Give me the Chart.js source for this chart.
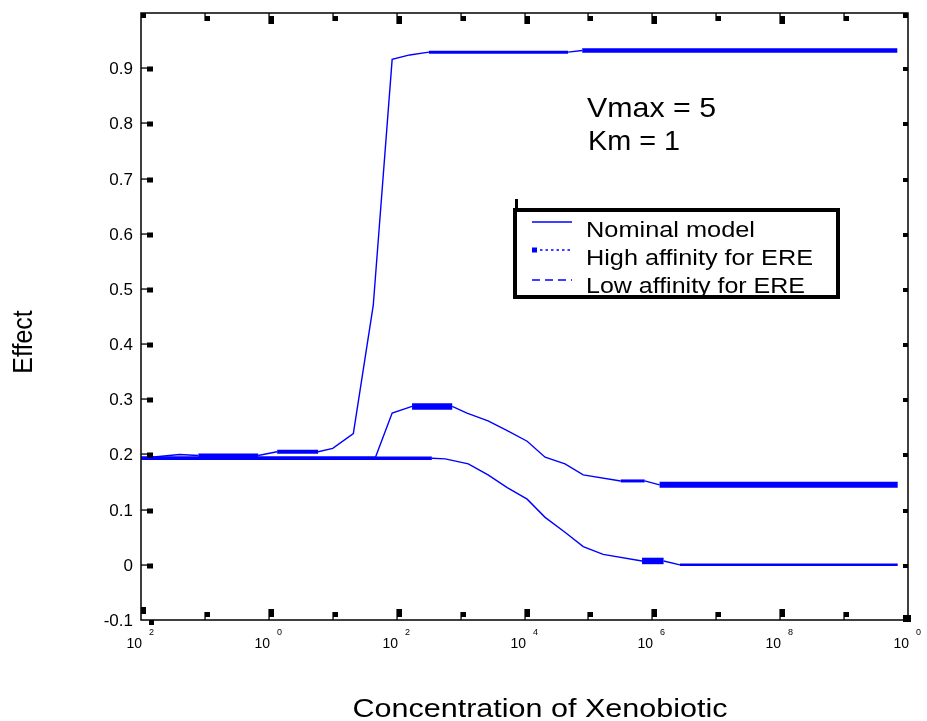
<!DOCTYPE html>
<html>
<head>
<meta charset="utf-8">
<script src="https://cdn.jsdelivr.net/npm/chart.js@4/dist/chart.umd.min.js"></script>
<style>
  html, body { margin: 0; padding: 0; background: #fff; }
  canvas { display: block; }
</style>
</head>
<body>
<canvas id="chart" width="927" height="721"></canvas>
<script>
// ---- Data: effect vs. xenobiotic concentration ----
const nominalX = [0.01, 0.04, 0.079, 0.68, 1.35, 5.9, 10, 21, 43, 85, 160, 320, 48000, 80000, 6.8e9];
const nominalY = [0.193, 0.200, 0.198, 0.198, 0.205, 0.205, 0.211, 0.238, 0.470, 0.916, 0.924, 0.929, 0.929, 0.932, 0.932];

const highX = [0.01, 46, 85, 174, 740, 1260, 2690, 5370, 11000, 21000, 43000, 83000, 320000, 760000, 1.3e6, 6.9e9];
const highY = [0.193, 0.193, 0.275, 0.287, 0.287, 0.275, 0.261, 0.243, 0.224, 0.195, 0.183, 0.163, 0.152, 0.152, 0.145, 0.145];

const lowX = [0.01, 355, 575, 1320, 2690, 5370, 11000, 21000, 43000, 83000, 170000, 690000, 1.5e6, 2.7e6, 6.9e9];
const lowY = [0.193, 0.193, 0.192, 0.183, 0.163, 0.140, 0.119, 0.086, 0.059, 0.033, 0.019, 0.007, 0.007, 0.000, 0.000];

const seriesNames = ['Nominal model', 'High affinity for ERE', 'Low affinity for ERE'];

// ---- Axis ticks ----
const yTickValues = [-0.1, 0, 0.1, 0.2, 0.3, 0.4, 0.5, 0.6, 0.7, 0.8, 0.9];
const yTickLabels = ['-0.1', '0', '0.1', '0.2', '0.3', '0.4', '0.5', '0.6', '0.7', '0.8', '0.9'];
const xMajorTicks = [0.01, 1, 100, 1e4, 1e6, 1e8, 1e10];
const xMinorTicks = [0.1, 10, 1e3, 1e5, 1e7, 1e9];
const xTickBase = '10';
const xTickExponents = ['2', '0', '2', '4', '6', '8', '0'];

const xTitle = 'Concentration of Xenobiotic';
const yTitle = 'Effect';
const noteLines = ['Vmax = 5', 'Km = 1'];

// ---- Styles (segment widths by segment index; default is thin) ----
const nominalThick = { 2: 4, 4: 4, 11: 3, 13: 4.5 };
const highThick = { 0: 3.5, 3: 6.5, 12: 3, 14: 6 };
const lowThick = { 0: 3.5, 11: 6.5, 13: 2.5 };
const THIN = 1.4;
const BLUE = '#0000ff';
const FONT = '"Liberation Sans", Arial, Helvetica, sans-serif';

function toPoints(xs, ys) { return xs.map((x, i) => ({ x: x, y: ys[i] })); }

function makeDataset(label, xs, ys, thick) {
  return {
    label: label,
    data: toPoints(xs, ys),
    borderColor: BLUE,
    borderWidth: THIN,
    pointRadius: 0,
    tension: 0,
    fill: false,
    borderCapStyle: 'butt',
    borderJoinStyle: 'miter',
    segment: {
      borderWidth: ctx => (thick[ctx.p0DataIndex] !== undefined ? thick[ctx.p0DataIndex] : THIN)
    }
  };
}

// Draw text scaled horizontally so it spans the given width
function fitText(ctx, text, x, y, size, width, align) {
  ctx.save();
  ctx.font = size + 'px ' + FONT;
  ctx.textAlign = align || 'left';
  ctx.textBaseline = 'alphabetic';
  const w = ctx.measureText(text).width;
  const sx = width ? width / w : 1;
  ctx.translate(x, y);
  ctx.scale(sx, 1);
  ctx.fillText(text, 0, 0);
  ctx.restore();
}

const framePlugin = {
  id: 'frame',
  afterDatasetsDraw(chart) {
    const { ctx, chartArea: a, scales } = chart;
    const xs = scales.x, ys = scales.y;
    ctx.save();
    ctx.fillStyle = '#000';
    ctx.strokeStyle = '#000';

    // box
    ctx.lineWidth = 1.5;
    ctx.strokeRect(a.left, a.top, a.right - a.left, a.bottom - a.top);

    // y ticks and labels
    yTickValues.forEach((v, i) => {
      const py = Math.round(ys.getPixelForValue(v));
      if (v > -0.1) {
        ctx.fillRect(a.left, py - 0.6, 7, 1.3);
        ctx.fillRect(a.left + 6, py - 1.5, 6, 5);
        ctx.fillRect(a.right - 5, py - 1, 5, 4);
      }
      ctx.font = '17px ' + FONT;
      ctx.textAlign = 'right';
      ctx.textBaseline = 'middle';
      ctx.fillText(yTickLabels[i], a.left - 8, py + 1);
    });
    // corner marks
    ctx.fillRect(a.left, a.top, 5, 5);
    ctx.fillRect(a.left, a.bottom - 13, 5, 7);
    ctx.fillRect(a.left + 8, a.bottom, 5, 5);
    ctx.fillRect(a.right - 5, a.bottom - 5, 8, 7);
    ctx.fillRect(a.right - 5, a.top, 5, 5);

    // x ticks
    xMajorTicks.forEach((v, i) => {
      const px = Math.round(xs.getPixelForValue(v));
      if (i > 0 && i < xMajorTicks.length - 1) {
        ctx.fillRect(px - 0.6, a.bottom - 11, 1.3, 11);
        ctx.fillRect(px, a.bottom - 11, 5, 8);
        ctx.fillRect(px - 0.6, a.top, 1.3, 11);
        ctx.fillRect(px, a.top + 3, 5, 8);
      }
      ctx.font = '14px ' + FONT;
      ctx.textAlign = 'right';
      ctx.textBaseline = 'alphabetic';
      ctx.fillText(xTickBase, px + 1, 648);
      ctx.font = '9px ' + FONT;
      ctx.textAlign = 'left';
      ctx.fillText(xTickExponents[i], px + 8, 635);
    });
    xMinorTicks.forEach(v => {
      const px = Math.round(xs.getPixelForValue(v));
      ctx.fillRect(px - 0.6, a.bottom - 8, 1.3, 8);
      ctx.fillRect(px, a.bottom - 8, 5, 5);
      ctx.fillRect(px - 0.6, a.top, 1.3, 8);
      ctx.fillRect(px, a.top + 3, 5, 5);
    });

    // axis titles
    fitText(ctx, xTitle, 540, 717, 25, 375, 'center');
    ctx.save();
    ctx.translate(24, 342);
    ctx.rotate(-Math.PI / 2);
    ctx.font = '25px ' + FONT;
    ctx.textAlign = 'center';
    ctx.textBaseline = 'middle';
    ctx.scale(1, 1.1);
    ctx.fillText(yTitle, 0, 0);
    ctx.restore();

    // parameter note
    fitText(ctx, noteLines[0], 587, 117, 28, 129, 'left');
    fitText(ctx, noteLines[1], 588, 150, 28, 92, 'left');

    // legend box
    const lx = 515, ly = 210, lw = 323, lh = 87;
    ctx.fillStyle = '#fff';
    ctx.fillRect(lx, ly, lw, lh);
    ctx.lineWidth = 4;
    ctx.strokeStyle = '#000';
    ctx.strokeRect(lx, ly, lw, lh);
    ctx.fillStyle = '#000';
    ctx.fillRect(lx, ly - 11, 3, 11);

    const sampleY = [222, 250, 280];
    const textY = [237, 265, 293];
    const textW = [169, 227, 219];
    ctx.strokeStyle = BLUE;
    ctx.lineWidth = 1.4;
    // solid
    ctx.beginPath(); ctx.moveTo(532, sampleY[0]); ctx.lineTo(572, sampleY[0]); ctx.stroke();
    // square marker + dotted
    ctx.fillStyle = BLUE;
    ctx.fillRect(532, sampleY[1] - 2.5, 5, 5);
    ctx.setLineDash([2.5, 3]);
    ctx.beginPath(); ctx.moveTo(540, sampleY[1]); ctx.lineTo(572, sampleY[1]); ctx.stroke();
    // dashed
    ctx.setLineDash([8, 5]);
    ctx.beginPath(); ctx.moveTo(532, sampleY[2]); ctx.lineTo(572, sampleY[2]); ctx.stroke();
    ctx.setLineDash([]);

    ctx.fillStyle = '#000';
    chart.data.datasets.forEach((ds, i) => {
      fitText(ctx, ds.label, 586, textY[i], 22, textW[i], 'left');
    });

    ctx.restore();
  }
};

new Chart(document.getElementById('chart'), {
  type: 'line',
  data: {
    datasets: [
      makeDataset(seriesNames[0], nominalX, nominalY, nominalThick),
      makeDataset(seriesNames[1], highX, highY, highThick),
      makeDataset(seriesNames[2], lowX, lowY, lowThick)
    ]
  },
  options: {
    responsive: false,
    animation: false,
    devicePixelRatio: 1,
    layout: { padding: { left: 141, right: 19, top: 13, bottom: 101 } },
    scales: {
      x: { type: 'logarithmic', min: 0.01, max: 1e10, display: false },
      y: { type: 'linear', min: -0.1, max: 1.0, display: false }
    },
    plugins: {
      legend: { display: false },
      tooltip: { enabled: false }
    }
  },
  plugins: [framePlugin]
});
</script>
</body>
</html>
